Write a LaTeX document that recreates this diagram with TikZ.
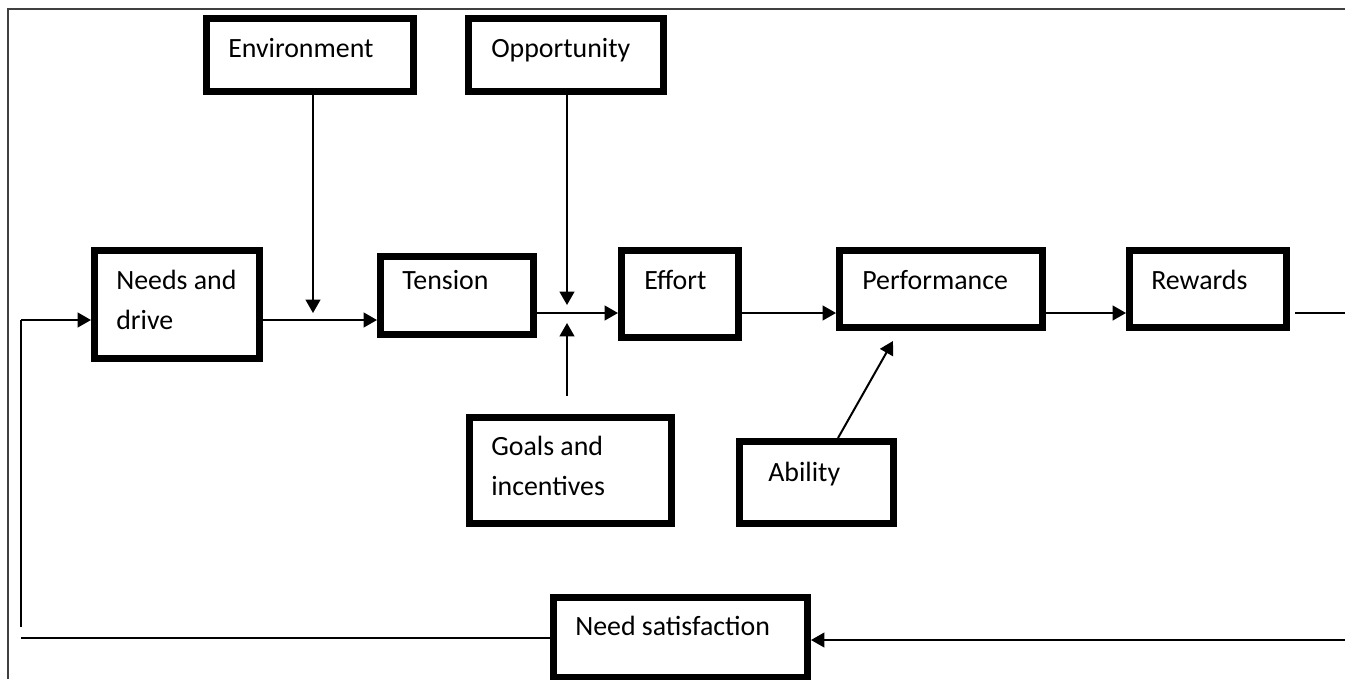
\documentclass[tikz,border=0pt]{standalone}
\usepackage{fontspec}
\setmainfont{Carlito}
\usetikzlibrary{arrows.meta}
\begin{document}
\begin{tikzpicture}[x=0.75pt,y=-0.75pt,
  box/.style={draw, line width=5pt, inner sep=0pt},
  lbl/.style={inner sep=0pt, anchor=base west, align=left, font=\fontsize{20.9}{30}\selectfont},
  conn/.style={line width=1.5pt},
  arr/.style={conn, -{Triangle[length=10pt,width=11pt]}},
  frameline/.style={line width=0.8pt, black!75}]
\useasboundingbox (0,0) rectangle (1345,679);
% frame
\draw[frameline] (8,679) -- (8,9) -- (1345,9);
% boxes
\node[box, minimum width=155.5pt, minimum height=55pt] (env) at (310,55) {};
\node[box, minimum width=146.5pt, minimum height=55pt] (opp) at (566,55) {};
\node[box, minimum width=124pt, minimum height=81.25pt] (needs) at (177,304.5) {};
\node[box, minimum width=115pt, minimum height=58.75pt] (tension) at (457,295.5) {};
\node[box, minimum width=88pt, minimum height=65.5pt] (effort) at (680,294) {};
\node[box, minimum width=152.5pt, minimum height=58pt] (perf) at (941,289) {};
\node[box, minimum width=118pt, minimum height=58pt] (rewards) at (1208,289) {};
\node[box, minimum width=151.75pt, minimum height=79.75pt] (goals) at (570.5,470.5) {};
\node[box, minimum width=115.75pt, minimum height=61.75pt] (ability) at (816.5,482.5) {};
\node[box, minimum width=190.75pt, minimum height=60.25pt] (needsat) at (680.5,637.5) {};
% labels (two-line labels are placed by the baseline of their last line)
\node[lbl] (envT) at (228,57) {Environment};
\node[lbl] (oppT) at (491,57) {Opportunity};
\node[lbl] (needsT) at (116,329) {Needs and\\drive};
\node[lbl] (tensionT) at (402,289) {Tension};
\node[lbl] (effortT) at (644,289) {Effort};
\node[lbl] (perfT) at (862,289) {Performance};
\node[lbl] (rewardsT) at (1151,289) {Rewards};
\node[lbl] (goalsT) at (491,495) {Goals and\\incentives};
\node[lbl] (abilityT) at (768,481) {Ability};
\node[lbl] (needsatT) at (575,635) {Need satisfaction};
% coordinates
\coordinate (fbTop) at (21,320);
\coordinate (fbBot) at (21,627);
\coordinate (bL) at (21,638);
\coordinate (bR) at (1345,640);
\coordinate (rStub) at (1295,313);
\coordinate (rEnd) at (1345,313);
\coordinate (j1) at (313,313);
\coordinate (j2) at (567,305);
\coordinate (g0) at (567,396);
\coordinate (g1) at (567,323);
\coordinate (ab0) at (838,438);
\coordinate (ab1) at (893,341);
% connectors
\draw[conn] (fbBot) -- (fbTop);
\draw[arr] (fbTop) -- (needs.west |- fbTop);
\draw[arr] (needs.east |- fbTop) -- (tension.west |- fbTop);
\draw[arr] (env.south -| j1) -- (j1);
\draw[arr] (tension.east |- rEnd) -- (effort.west |- rEnd);
\draw[arr] (opp.south -| j2) -- (j2);
\draw[arr] (g0) -- (g1);
\draw[arr] (effort.east |- rEnd) -- (perf.west |- rEnd);
\draw[arr] (perf.east |- rEnd) -- (rewards.west |- rEnd);
\draw[conn] (rStub) -- (rEnd);
\draw[arr] (ab0) -- (ab1);
\draw[conn] (bL) -- (needsat.west |- bL);
\draw[arr] (bR) -- (needsat.east |- bR);
\end{tikzpicture}
\end{document}
